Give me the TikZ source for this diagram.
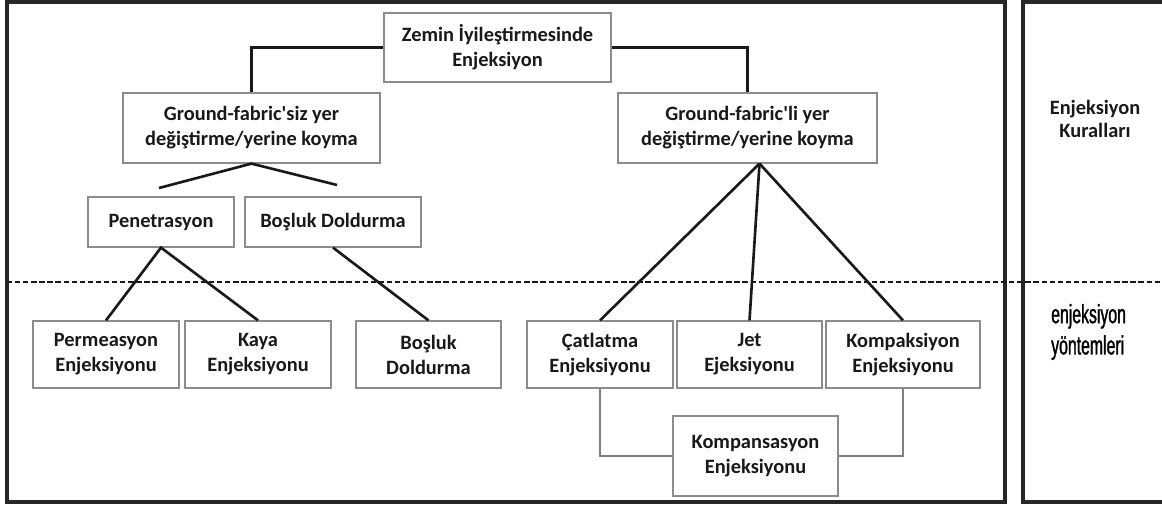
\documentclass[tikz,border=0pt]{standalone}
\usepackage{fontspec}
\setmainfont{Carlito}[Ligatures=TeXOff]
\newfontfamily\narrowfont[FakeStretch=0.6,FakeBold=1.2]{Liberation Sans}

\begin{document}
\begin{tikzpicture}[x=0.02cm,y=-0.02cm,
    box/.style={draw=black!45,line width=0.7pt,fill=white,align=center,inner sep=0pt,
      text=black!90,font=\bfseries\fontsize{11.6}{14.2}\selectfont},
    label/.style={align=center,text=black!90,font=\bfseries\fontsize{11.6}{13}\selectfont},
    link/.style={line width=1.5pt,black!90},
    thinlink/.style={line width=0.6pt,black!50},
    frame/.style={line width=1.8pt,black!85}]
        \useasboundingbox (0,0) rectangle (1162,504);

        % draw the frames
        \draw[frame] (7,2) rectangle (1005,502);
        \draw[frame] (1162,2) -- (1023,2) -- (1023,502) -- (1162,502);
        \draw[link,line width=1.3pt,dash pattern=on 3pt off 1.6pt] (7,282) -- (1162,282);

        % draw the boxes
        \node[box,minimum width=4.54cm,minimum height=1.38cm] (root) at (497.5,47.5) {Zemin İyileştirmesinde\\Enjeksiyon};
        \node[box,minimum width=5.14cm,minimum height=1.4cm] (siz) at (251.5,128) {Ground-fabric'siz yer\\değiştirme/yerine koyma};
        \node[box,minimum width=5.18cm,minimum height=1.4cm] (li) at (747.5,128) {Ground-fabric'li yer\\değiştirme/yerine koyma};
        \node[box,minimum width=2.92cm,minimum height=1cm] (pen) at (161,222) {Penetrasyon};
        \node[box,minimum width=3.52cm,minimum height=1cm] (bdold) at (333,222) {Boşluk Doldurma};

        \foreach \name/\x/\w/\txt in {
            perm/106/2.92/Permeasyon\\Enjeksiyonu,
            kaya/258/2.92/Kaya\\Enjeksiyonu,
            bosluk/428.5/2.9/Boşluk\\Doldurma,
            catl/600/2.92/Çatlatma\\Enjeksiyonu,
            jet/749.5/2.9/Jet\\Ejeksiyonu,
            komp/903/3.08/Kompaksiyon\\Enjeksiyonu}
                \node[box,minimum width=\w cm,minimum height=1.34cm] (\name) at (\x,354.5) {\txt};

        \node[box,minimum width=3.3cm,minimum height=1.6cm] (kmps) at (755.5,456) {Kompansasyon\\Enjeksiyonu};

        % draw the connectors
        \draw[link] (root.west) -| (siz.north);
        \draw[link] (root.east) -| (li.north);
        \coordinate (penend) at (159,188);
        \coordinate (bdend) at (337,185);
        \draw[link] (penend) -- (siz.south) -- (bdend);
        \draw[link] (perm.north) -- (pen.south) -- (kaya.north);
        \draw[link] (bdold.south) -- (bosluk.north);
        \coordinate (lihub) at ([xshift=0.24cm]li.south);
        \foreach \name in {catl,jet,komp}
                \draw[link] (lihub) -- (\name.north);
        \draw[thinlink] (catl.south) |- (kmps.west);
        \draw[thinlink] (komp.south) |- (kmps.east);

        % draw the side labels
        \node[label] (rules) at (1095,119) {Enjeksiyon\\Kuralları};
        \node[anchor=west,align=left,text=black,font=\narrowfont\fontsize{15}{17.8}\selectfont] (methods) at (1045,332) {enjeksiyon\\yöntemleri};
  \end{tikzpicture}
\end{document}
